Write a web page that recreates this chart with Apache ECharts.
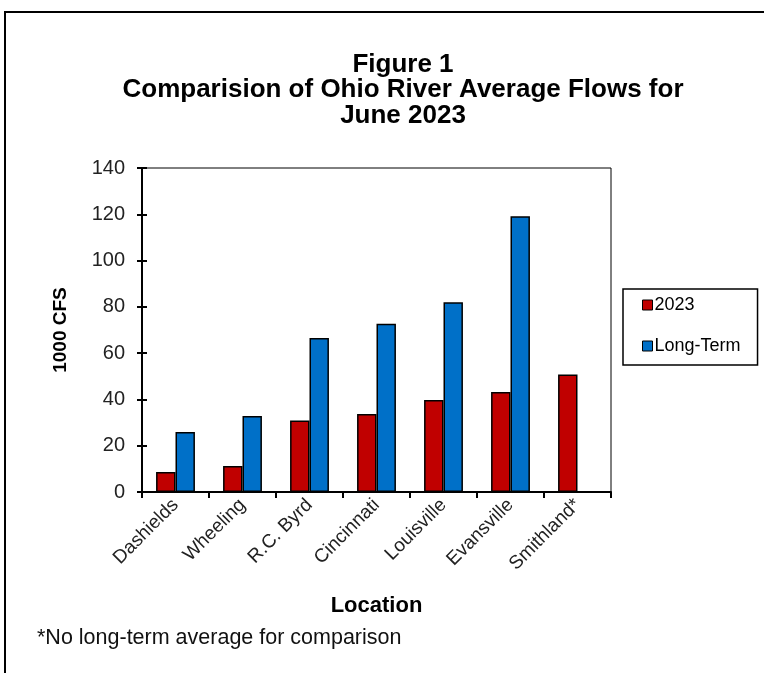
<!DOCTYPE html>
<html><head><meta charset="utf-8">
<script src="https://cdn.jsdelivr.net/npm/echarts@6/dist/echarts.min.js"></script>
<style>html,body{margin:0;padding:0;background:#fff}#c{width:764px;height:673px}</style>
</head><body><div id="c"></div>
<script>
const categories = ['Dashields','Wheeling','R.C. Byrd','Cincinnati','Louisville','Evansville','Smithland*'];
const flows2023 = [8.6, 11.2, 30.9, 33.7, 39.7, 43.2, 50.8];
const longTerm = [25.9, 32.8, 66.5, 72.7, 82.0, 119.1, null];
const seriesNames = ['2023', 'Long-Term'];
const yTicks = {min: 0, max: 140, interval: 20};

const F = 'Arial, "Liberation Sans", sans-serif';
const chart = echarts.init(document.getElementById('c'), null, {renderer: 'canvas'});
chart.setOption({
  animation: false,
  backgroundColor: '#fff',
  title: {
    text: 'Figure 1\nComparision of Ohio River Average Flows for\nJune 2023',
    left: 398, top: 47, textAlign: 'center',
    textStyle: {fontFamily: F, fontSize: 26, fontWeight: 'bold', color: '#000', lineHeight: 25.5}
  },
  legend: {
    orient: 'vertical', left: 623, top: 289,
    padding: [7, 17, 10, 19], itemGap: 23,
    borderColor: '#000', borderWidth: 1.5,
    itemWidth: 10, itemHeight: 10, icon: 'rect',
    itemStyle: {borderColor: '#000', borderWidth: 1},
    textStyle: {fontFamily: F, fontSize: 18, color: '#000', padding: [0, 0, 0, -3]},
    data: seriesNames
  },
  grid: {left: 142, top: 168, right: 153, bottom: 181, show: true, borderColor: '#000', borderWidth: 1},
  xAxis: {
    type: 'category', data: categories,
    name: 'Location', nameLocation: 'middle', nameGap: 103,
    nameTextStyle: {fontFamily: F, fontSize: 22, fontWeight: 'bold', color: '#000'},
    axisLine: {lineStyle: {color: '#000', width: 2}},
    axisTick: {show: true, length: 6, lineStyle: {color: '#000', width: 2}, interval: 0},
    axisLabel: {rotate: 45, interval: 0, margin: 10, fontFamily: F, fontSize: 19, color: '#222'}
  },
  yAxis: [{
    type: 'value', min: yTicks.min, max: yTicks.max, interval: yTicks.interval,
    name: '1000 CFS', nameLocation: 'middle', nameGap: 72, nameRotate: 90,
    nameTextStyle: {fontFamily: F, fontSize: 19, fontWeight: 'bold', color: '#000'},
    axisLine: {show: true, lineStyle: {color: '#000', width: 2}},
    axisTick: {show: true, length: 5, lineStyle: {color: '#000', width: 2}},
    axisLabel: {fontFamily: F, fontSize: 20, color: '#222', margin: 17},
    splitLine: {show: false}
  }, {
    type: 'value', position: 'left', min: yTicks.min, max: yTicks.max, interval: yTicks.interval,
    axisLine: {show: false},
    axisTick: {show: true, inside: true, length: 5, lineStyle: {color: '#000', width: 2}},
    axisLabel: {show: false}, splitLine: {show: false}
  }],
  series: [{
    name: seriesNames[0], type: 'bar', data: flows2023,
    barGap: '0%', barCategoryGap: '42%',
    itemStyle: {color: '#C00000', borderColor: '#000', borderWidth: 1.5}
  }, {
    name: seriesNames[1], type: 'bar', data: longTerm,
    barGap: '0%', barCategoryGap: '42%',
    itemStyle: {color: '#0070C8', borderColor: '#000', borderWidth: 1.5}
  }],
  graphic: [
    {type: 'polyline', shape: {points: [[5, 673], [5, 12], [764, 12]]}, style: {stroke: '#000', lineWidth: 2, fill: null}},
    {type: 'text', left: 37, top: 627, style: {text: '*No long-term average for comparison', font: '21.5px ' + F, fill: '#111'}}
  ]
});
</script></body></html>
